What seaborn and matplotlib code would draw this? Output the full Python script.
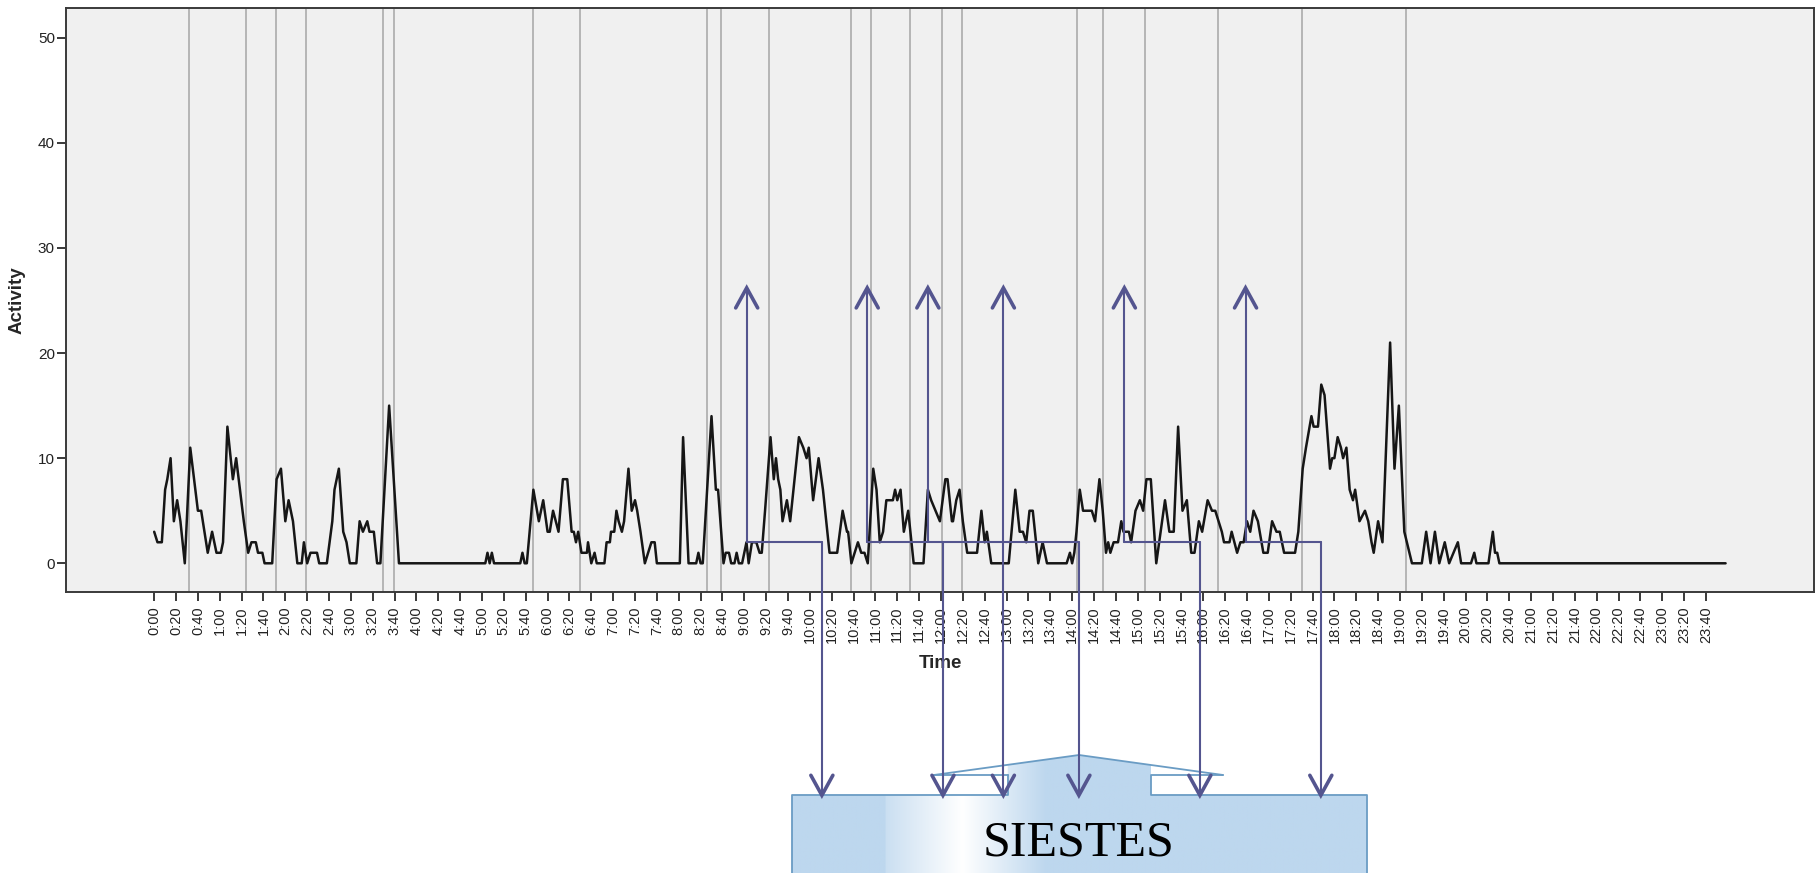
import numpy as np
import pandas as pd
import matplotlib
matplotlib.use("Agg")
import matplotlib.pyplot as plt
import seaborn as sns
from matplotlib.patches import Polygon

# ---------------- data (minutes after midnight, activity counts) ----------------
TIME_NIGHT = [0, 3, 7, 10, 12, 15, 18, 21, 24, 28, 33, 40, 43, 46, 49, 53, 57, 61, 63, 67,
              72, 75, 82, 86, 89, 93, 95, 99, 101, 108, 112, 116, 120, 123, 127, 130, 131, 135, 137, 140,
              143, 149, 151, 158, 163, 165, 169, 173, 176, 179, 185, 188, 191, 195, 197, 201, 204, 207, 215, 224]
ACT_NIGHT = [3, 2, 2, 7, 8, 10, 4, 6, 4, 0, 11, 5, 5, 3, 1, 3, 1, 1, 2, 13,
             8, 10, 4, 1, 2, 2, 1, 1, 0, 0, 8, 9, 4, 6, 4, 1, 0, 0, 2, 0,
             1, 1, 0, 0, 4, 7, 9, 3, 2, 0, 0, 4, 3, 4, 3, 3, 0, 0, 15, 0]

TIME_MORNING = [303, 305, 307, 309, 311, 335, 337, 339, 341, 347, 352, 356, 360, 362, 365, 370, 374, 378, 382, 384,
                386, 388, 391, 396, 397, 400, 403, 405, 412, 414, 417, 418, 421, 423, 425, 428, 430, 434, 437, 440,
                442, 445, 449, 452, 455, 458, 460, 481, 484, 489, 496, 498, 500, 502, 510, 514, 516, 521, 523, 526,
                528, 531, 533, 535, 538, 540, 542, 544]
ACT_MORNING = [0, 1, 0, 1, 0, 0, 1, 0, 0, 7, 4, 6, 3, 3, 5, 3, 8, 8, 3, 3,
               2, 3, 1, 1, 2, 0, 1, 0, 0, 2, 2, 3, 3, 5, 4, 3, 4, 9, 5, 6,
               5, 3, 0, 1, 2, 2, 0, 0, 12, 0, 0, 1, 0, 0, 14, 7, 7, 0, 1, 1,
               0, 0, 1, 0, 0, 1, 2, 0]

TIME_MIDDAY = [547, 551, 554, 556, 559, 564, 567, 569, 571, 573, 575, 579, 582, 586, 590, 594, 597, 599, 603, 608,
               612, 618, 625, 630, 634, 635, 638, 641, 644, 647, 650, 653, 658, 661, 664, 667, 670, 676, 678, 680,
               683, 686, 690, 695, 704, 708, 711, 715, 719, 724, 726, 730, 731, 734, 737, 740, 744, 753, 757, 760,
               762, 766, 782, 788, 792, 795, 798, 801, 804, 809, 813, 817, 835]
ACT_MIDDAY = [2, 2, 1, 1, 5, 12, 8, 10, 8, 7, 4, 6, 4, 8, 12, 11, 10, 11, 6, 10,
              7, 1, 1, 5, 3, 3, 0, 1, 2, 1, 1, 0, 9, 7, 2, 3, 6, 6, 7, 6,
              7, 3, 5, 0, 0, 7, 6, 5, 4, 8, 8, 4, 4, 6, 7, 4, 1, 1, 5, 2,
              3, 0, 0, 7, 3, 3, 2, 5, 5, 0, 2, 0, 0]

TIME_EVENING = [838, 840, 842, 844, 847, 850, 858, 861, 865, 868, 871, 873, 875, 878, 882, 885, 887, 892, 894, 898,
                902, 905, 908, 912, 917, 925, 929, 933, 937, 941, 945, 949, 952, 956, 959, 964, 968, 971, 974, 977,
                979, 984, 986, 991, 994, 997, 1000, 1003, 1006, 1010, 1015, 1019, 1023, 1027, 1030, 1034, 1044, 1047, 1051, 1054,
                1059, 1061, 1065, 1068, 1071, 1076, 1078, 1080, 1083, 1086, 1088, 1091, 1094, 1097, 1099, 1103, 1108, 1111, 1114, 1116,
                1120, 1124, 1131, 1135, 1139, 1144, 1151, 1160, 1164, 1168, 1172, 1176, 1181, 1185, 1189, 1193, 1196, 1205, 1208, 1210,
                1221, 1225, 1227, 1229, 1231, 1438]
ACT_EVENING = [1, 0, 1, 3, 7, 5, 5, 4, 8, 5, 1, 2, 1, 2, 2, 4, 3, 3, 2, 5,
               6, 5, 8, 8, 0, 6, 3, 3, 13, 5, 6, 1, 1, 4, 3, 6, 5, 5, 4, 3,
               2, 2, 3, 1, 2, 2, 4, 3, 5, 4, 1, 1, 4, 3, 3, 1, 1, 3, 9, 11,
               14, 13, 13, 17, 16, 9, 10, 10, 12, 11, 10, 11, 7, 6, 7, 4, 5, 4, 2, 1,
               4, 2, 21, 9, 15, 3, 0, 0, 3, 0, 3, 0, 2, 0, 1, 2, 0, 0, 1, 0,
               0, 3, 1, 1, 0, 0]

# grey reference lines (minutes)
REF_LINES_MIN = [32.1, 83.7, 111.7, 139.2, 209.0, 219.0, 346.6, 389.6, 505.8, 518.6, 562.5,
                 637.3, 656.3, 691.5, 720.5, 739.1, 844.6, 868.4, 906.6, 973.6, 1050.5, 1145.4]

TICK_MIN = list(range(0, 1421, 20))
TICK_LABELS = [f"{m // 60}:{m % 60:02d}" for m in TICK_MIN]
Y_TICKS = [0, 10, 20, 30, 40, 50]

# siesta annotation (minutes)
SIESTA_UP = [542.2, 652.5, 708.0, 777.1, 887.8, 998.7]
SIESTA_DOWN = [611.0, 721.8, 777.1, 846.2, 956.9, 1067.6]
SIESTA_SPANS = [(542.2, 611.0), (652.5, 846.2), (887.8, 956.9), (998.7, 1067.6)]
SIESTA_LEVEL = 2.06
ARROW_TOP = 26.2
BOX_LABEL = "SIESTES"

# ---------------- figure ----------------
W, H = 1816, 873
sns.set_theme(style="ticks")
plt.rcParams["font.family"] = ["Liberation Sans", "DejaVu Sans"]

fig = plt.figure(figsize=(W / 100, H / 100), dpi=100)
ax = fig.add_axes([66 / W, 1 - 592.3 / H, (1814 - 66) / W, (592.3 - 8.3) / H])

df = pd.DataFrame({
    "Time": TIME_NIGHT + TIME_MORNING + TIME_MIDDAY + TIME_EVENING,
    "Activity": ACT_NIGHT + ACT_MORNING + ACT_MIDDAY + ACT_EVENING,
})

ax.set_facecolor("#f0f0f0")
for m in REF_LINES_MIN:
    ax.axvline(m, color="#ababab", lw=1.2, zorder=1)

sns.lineplot(data=df, x="Time", y="Activity", ax=ax, color="#161616", linewidth=1.8, zorder=3)

ax.set_xlim(-80.7, 1518.9)
ax.set_ylim(-2.76, 52.8)
ax.set_xticks(TICK_MIN)
ax.set_xticklabels(TICK_LABELS, rotation=90)
ax.set_yticks(Y_TICKS)
ax.set_xlabel("")
ax.set_ylabel("")
ax.grid(False)
for s in ax.spines.values():
    s.set_color("#3a3a3a")
    s.set_linewidth(1.4)
ax.tick_params(axis="both", direction="out", length=6.5, width=1.3, color="#2a2a2a",
               labelsize=10.5, labelcolor="#222222")
ax.tick_params(axis="x", pad=3.5)
ax.tick_params(axis="y", pad=1.5, labelsize=11)

fig.text(940.7 / W, 1 - 663 / H, "Time", ha="center", va="center", fontsize=13.5, fontweight="bold")
fig.text(17.5 / W, 1 - 300 / H, "Activity", ha="center", va="center", rotation=90,
         fontsize=13.5, fontweight="bold")

# ---------------- overlay (pixel space, y downwards) ----------------
oax = fig.add_axes([0, 0, 1, 1], zorder=5)
oax.axis("off")


def to_px(m, v):
    x, y = ax.transData.transform((m, v))
    return x, H - y


ann = "#54558f"
lvl = to_px(0, SIESTA_LEVEL)[1]
top = to_px(0, ARROW_TOP)[1]
box_top = 795.3
aw, ah = 11, 20

# box with gradient
blue = np.array([0xbd, 0xd7, 0xee]) / 255.0
bl, br, bb = 791.7, 1366.7, 880
xs = np.linspace(bl, br, 700)
t = np.zeros_like(xs)
rise = (xs >= 885) & (xs < 962)
t[rise] = 0.2 + 0.8 * (xs[rise] - 885) / 77
fall = (xs >= 962) & (xs < 1046)
t[fall] = 1 - (xs[fall] - 962) / 84
img = blue[None, :] * (1 - t[:, None]) + t[:, None]
img = np.repeat(img[None, :, :], 2, axis=0)

poly = [(bl, bb), (bl, box_top), (1007.7, box_top), (1007.7, 764.8), (1079, 755),
        (1151, 765), (1151, box_top), (br, box_top), (br, bb)]
patch = Polygon(poly, closed=True, facecolor="none", edgecolor="none")
oax.add_patch(patch)
im = oax.imshow(img, extent=(bl, br, bb, 750), aspect="auto", zorder=1, interpolation="bilinear")
im.set_clip_path(patch)

edge = "#6a9cc4"
oax.plot([bl, bl, 1007.7, 1007.7], [bb, box_top, box_top, 775], color=edge, lw=1.3, zorder=2)
oax.plot([934, 1007.7], [775, 775], color=edge, lw=1.3, zorder=2)
oax.plot([934, 1079, 1223], [775, 755, 775], color=edge, lw=1.3, zorder=2)
oax.plot([1223, 1151, 1151, br, br], [775, 775, box_top, box_top, bb], color=edge, lw=1.3, zorder=2)
oax.text(1079, 855, BOX_LABEL, family=["Liberation Serif", "DejaVu Serif"], fontsize=36,
         ha="center", va="baseline", color="black", zorder=4)

# annotation lines and arrows
for a, b in SIESTA_SPANS:
    xa, xb = to_px(a, 0)[0], to_px(b, 0)[0]
    oax.plot([xa, xb], [lvl, lvl], color=ann, lw=1.5, zorder=3)
for m in SIESTA_UP:
    x = to_px(m, 0)[0]
    oax.plot([x, x], [lvl, top + 3], color=ann, lw=1.5, zorder=3)
    oax.plot([x - aw, x, x + aw], [top + ah, top, top + ah], color=ann, lw=2.6, zorder=3,
             solid_joinstyle="miter")
for m in SIESTA_DOWN:
    x = to_px(m, 0)[0]
    oax.plot([x, x], [lvl, box_top - 3], color=ann, lw=1.5, zorder=3)
    oax.plot([x - aw, x, x + aw], [box_top - ah, box_top, box_top - ah], color=ann, lw=2.6,
             zorder=3, solid_joinstyle="miter")

oax.set_xlim(0, W)
oax.set_ylim(H, 0)

fig.savefig("out.png", dpi=100)
